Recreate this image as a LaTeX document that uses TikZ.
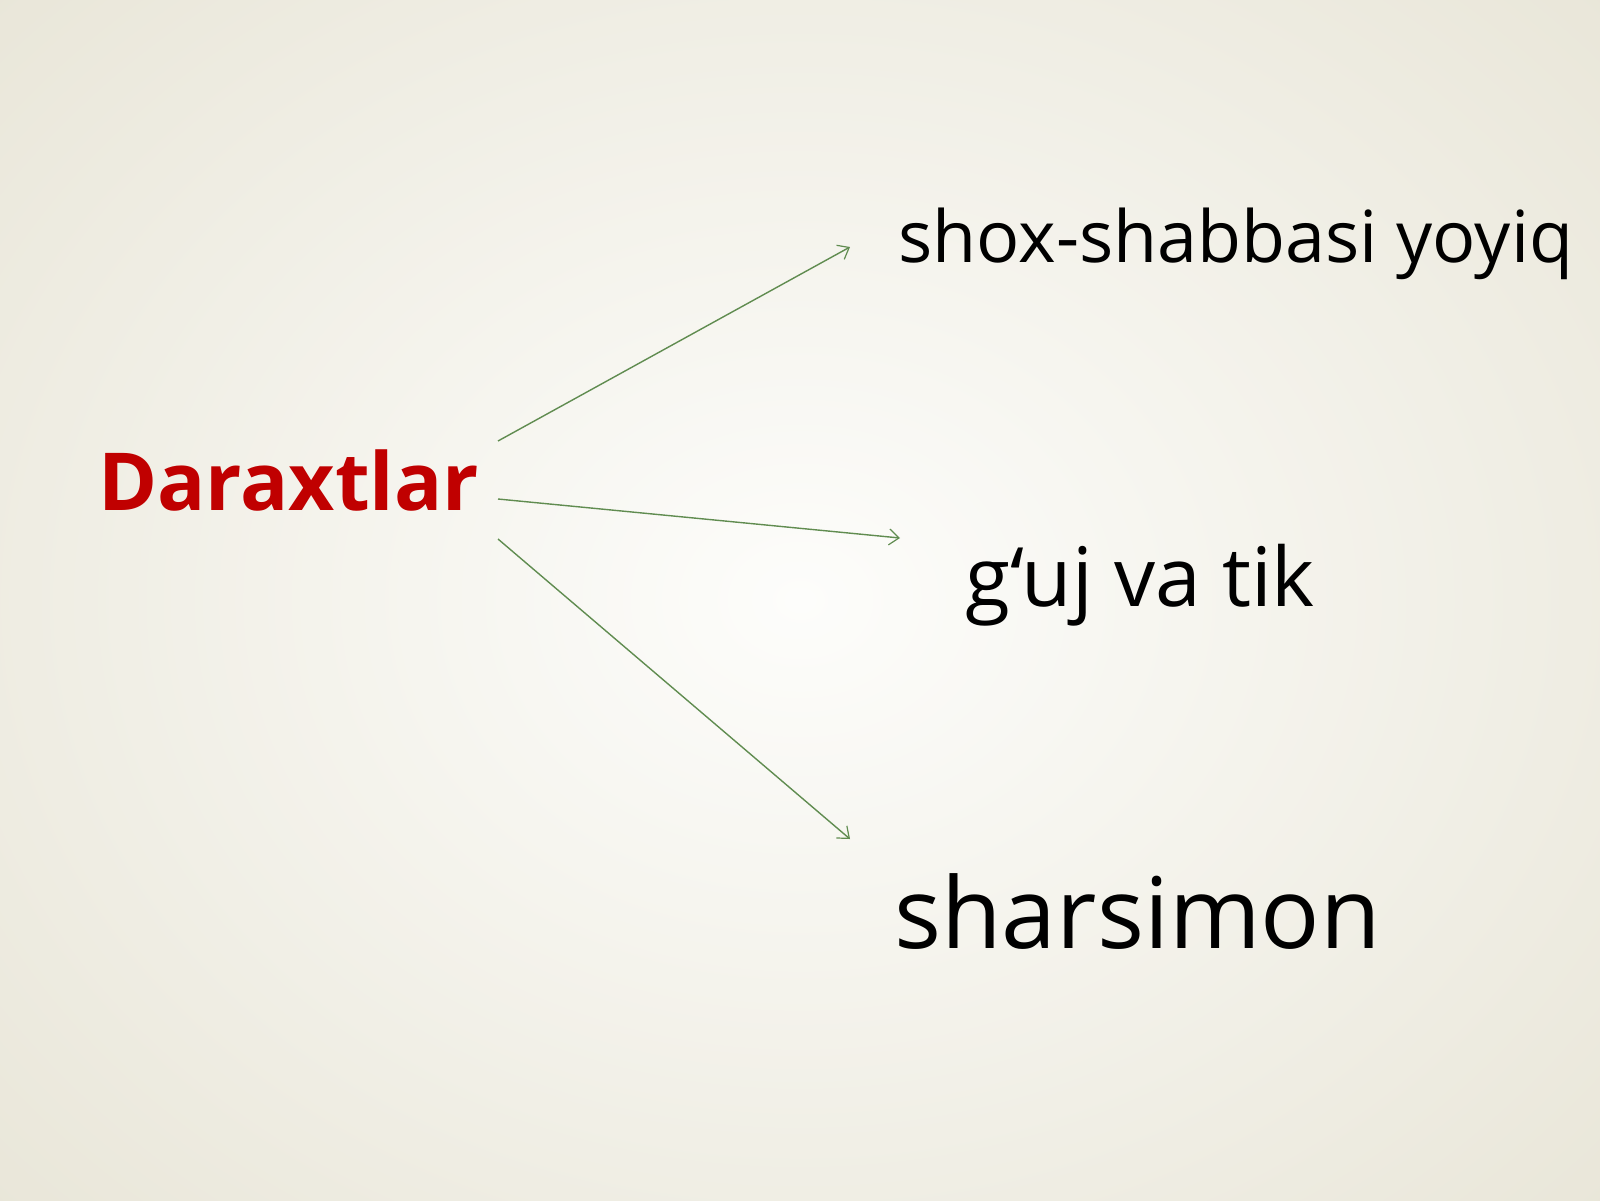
\documentclass[tikz,border=0pt]{standalone}
\usepackage{fontspec}
\setmainfont{Open Sans}
\usetikzlibrary{arrows.meta}
\definecolor{bgedge}{RGB}{225,221,203}
\definecolor{bgmid}{RGB}{253,253,251}
\definecolor{titlered}{RGB}{192,0,0}
\definecolor{arrowgreen}{RGB}{96,140,80}
\tikzset{
  lbl/.style={anchor=base west, inner sep=0pt, text=black},
  conn/.style={draw=arrowgreen, line width=0.7pt, -{Straight Barb[length=5pt,width=8pt,line width=0.6pt]}}
}
\begin{document}
\begin{tikzpicture}[x=0.5pt,y=-0.5pt]
\useasboundingbox (0,0) rectangle (1600,1200);
\begin{scope}
\clip (0,0) rectangle (1600,1200);
\shade[inner color=bgmid, outer color=bgedge] (-750,-650) rectangle (2350,1850);
\end{scope}
\node[lbl, text=titlered, font=\fontsize{40}{48}\selectfont\bfseries] (root) at (98,510) {Daraxtlar};
\node[lbl, font=\fontsize{35.9}{43}\selectfont] (a) at (898,262) {shox-shabbasi yoyiq};
\node[lbl, font=\fontsize{41}{49}\selectfont] (b) at (965,606) {g‘uj va tik};
\node[lbl, font=\fontsize{49.3}{59}\selectfont] (c) at (894,948) {sharsimon};
\coordinate (s1) at (498,441);
\coordinate (s2) at (498,499);
\coordinate (s3) at (498,539);
\coordinate (e1) at (850,247);
\coordinate (e2) at (900,538);
\coordinate (e3) at (850,839);
\draw[conn] (s1) -- (e1);
\draw[conn] (s2) -- (e2);
\draw[conn] (s3) -- (e3);
\end{tikzpicture}
\end{document}
